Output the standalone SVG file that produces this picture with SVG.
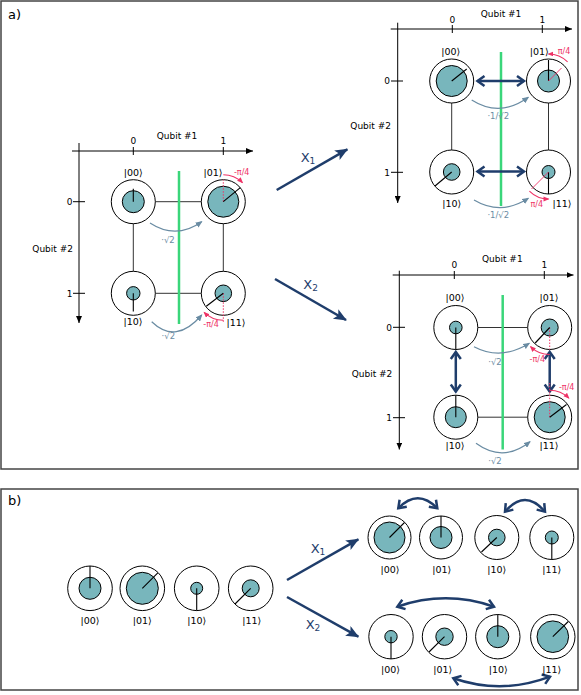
<svg xmlns="http://www.w3.org/2000/svg" width="581" height="695" viewBox="0 0 581 695">
<style>
text{font-family:"DejaVu Sans","Liberation Sans",sans-serif;}
.frame{fill:#fff;stroke:#444;stroke-width:1.5}
.ax{stroke:#000;stroke-width:1;fill:none}
.axa{stroke:#000;stroke-width:1;fill:none;marker-end:url(#axArr)}
.tick{font-size:9px;fill:#000}
.qt{font-size:9px;fill:#000}
.outer{fill:#fff;stroke:#000;stroke-width:1}
.fill{fill:#78b6bc;stroke:#000;stroke-width:1}
.ph{stroke:#000;stroke-width:1.1}
.ket{font-size:9.5px;fill:#000;text-anchor:middle}
.conn{stroke:#333;stroke-width:1;fill:none}
.green{stroke:#3ad67a;stroke-width:2.5}
.garc{fill:none;stroke:#6a8ca3;stroke-width:1.2;marker-end:url(#gArr)}
.gtx{font-size:8.5px;fill:#6a8ca3;text-anchor:middle}
.pdot{stroke:#ee3366;stroke-width:1;stroke-dasharray:1.5,1.5}
.pline{stroke:#ee3366;stroke-width:0.9}
.parc{fill:none;stroke:#ee3366;stroke-width:1.1;marker-end:url(#pArr)}
.ptx{font-size:8px;fill:#ee3366;text-anchor:middle}
.nav{stroke:#1f3d6b;stroke-width:2.5;fill:none;marker-end:url(#nArr)}
.dbl{stroke:#1f3d6b;stroke-width:2.5;fill:none;marker-start:url(#chev);marker-end:url(#chev)}
.xl{font-size:13px;fill:#1f3d6b}
.xs{font-size:9px;fill:#1f3d6b}
.pl{font-size:13px;fill:#000}
</style>
<defs>
<marker id="axArr" markerUnits="userSpaceOnUse" markerWidth="8" markerHeight="6" refX="7" refY="3" orient="auto"><path d="M0,0 L7,3 L0,6 z" fill="#000"/></marker>
<marker id="gArr" markerUnits="userSpaceOnUse" markerWidth="8" markerHeight="6" refX="6" refY="3" orient="auto"><path d="M0,0 L7,3 L0,6 z" fill="#6a8ca3"/></marker>
<marker id="pArr" markerUnits="userSpaceOnUse" markerWidth="7" markerHeight="6" refX="5" refY="2.5" orient="auto"><path d="M0,0 L6,2.5 L0,5 z" fill="#ee3366"/></marker>
<marker id="nArr" markerUnits="userSpaceOnUse" markerWidth="14" markerHeight="12" refX="12" refY="5.5" orient="auto"><path d="M0,0 L13,5.5 L0,11 L3,5.5 z" fill="#1f3d6b"/></marker>
<marker id="chev" markerUnits="userSpaceOnUse" markerWidth="12" markerHeight="14" refX="7" refY="5" orient="auto-start-reverse" overflow="visible"><path d="M0,0 L7,5 L0,10" fill="none" stroke="#1f3d6b" stroke-width="2.5"/></marker>
</defs>

<rect class="frame" x="1" y="1" width="577" height="468"/>
<rect class="frame" x="1" y="489" width="577" height="201"/>
<text class="pl" x="8" y="19">a)</text>
<text class="pl" x="8" y="504.5">b)</text>

<!-- ===== Panel a: left diagram axes ===== -->
<g id="axes-left">
<line class="axa" x1="72" y1="151" x2="253" y2="151"/>
<line class="axa" x1="79" y1="143" x2="79" y2="323"/>
<line class="ax" x1="133.3" y1="147" x2="133.3" y2="155"/>
<line class="ax" x1="223.3" y1="147" x2="223.3" y2="155"/>
<line class="ax" x1="73" y1="201.7" x2="85" y2="201.7"/>
<line class="ax" x1="73" y1="293.3" x2="85" y2="293.3"/>
<text class="tick" x="133.3" y="144" text-anchor="middle">0</text>
<text class="tick" x="223.3" y="144" text-anchor="middle">1</text>
<text class="tick" x="72.5" y="205" text-anchor="end">0</text>
<text class="tick" x="72.5" y="296.5" text-anchor="end">1</text>
<text class="qt" x="177" y="139" text-anchor="middle">Qubit #1</text>
<text class="qt" x="73" y="252" text-anchor="end">Qubit #2</text>
</g>

<!-- ===== Panel a: top-right axes ===== -->
<g id="axes-x1">
<line class="axa" x1="390.7" y1="29" x2="572" y2="29"/>
<line class="axa" x1="397.7" y1="22.7" x2="397.7" y2="203"/>
<line class="ax" x1="452.3" y1="25" x2="452.3" y2="33"/>
<line class="ax" x1="542.3" y1="25" x2="542.3" y2="33"/>
<line class="ax" x1="391" y1="81" x2="403" y2="81"/>
<line class="ax" x1="391" y1="172.3" x2="403" y2="172.3"/>
<text class="tick" x="452.3" y="22.7" text-anchor="middle">0</text>
<text class="tick" x="542.3" y="22.7" text-anchor="middle">1</text>
<text class="tick" x="390" y="84.3" text-anchor="end">0</text>
<text class="tick" x="390" y="175.6" text-anchor="end">1</text>
<text class="qt" x="501" y="16.5" text-anchor="middle">Qubit #1</text>
<text class="qt" x="391" y="129.3" text-anchor="end">Qubit #2</text>
</g>

<!-- ===== Panel a: bottom-right axes ===== -->
<g id="axes-x2">
<line class="axa" x1="392.7" y1="275" x2="573.5" y2="275"/>
<line class="axa" x1="399.3" y1="270.7" x2="399.3" y2="449.5"/>
<line class="ax" x1="454.3" y1="271" x2="454.3" y2="279"/>
<line class="ax" x1="544.3" y1="271" x2="544.3" y2="279"/>
<line class="ax" x1="393" y1="327.3" x2="405" y2="327.3"/>
<line class="ax" x1="393" y1="417.7" x2="405" y2="417.7"/>
<text class="tick" x="454.3" y="268.3" text-anchor="middle">0</text>
<text class="tick" x="544.3" y="268.3" text-anchor="middle">1</text>
<text class="tick" x="392" y="330.6" text-anchor="end">0</text>
<text class="tick" x="392" y="421" text-anchor="end">1</text>
<text class="qt" x="502.3" y="261.7" text-anchor="middle">Qubit #1</text>
<text class="qt" x="392.3" y="377" text-anchor="end">Qubit #2</text>
</g>

<!-- ===== connectors ===== -->
<g id="connectors">
<!-- left diagram -->
<line class="conn" x1="155.3" y1="201.7" x2="201.3" y2="201.7"/>
<line class="conn" x1="155.3" y1="293.3" x2="201.3" y2="293.3"/>
<line class="conn" x1="133.3" y1="223.7" x2="133.3" y2="271.3"/>
<line class="conn" x1="223.3" y1="223.7" x2="223.3" y2="271.3"/>
<line class="green" x1="179" y1="171" x2="179" y2="324"/>
<path class="garc" d="M150,223 Q176,240 201.7,221.7"/>
<path class="garc" d="M151.7,321.7 Q176,345 201.7,315"/>
<text class="gtx" x="168" y="243">·√2</text>
<text class="gtx" x="168.3" y="339">·√2</text>
<!-- top-right -->
<line class="conn" x1="451.7" y1="103" x2="451.7" y2="150"/>
<line class="conn" x1="548.5" y1="103" x2="548.5" y2="150"/>
<line class="green" x1="501" y1="52" x2="501" y2="206"/>
<line class="dbl" x1="477.5" y1="81" x2="524" y2="81"/>
<line class="dbl" x1="477.5" y1="171.5" x2="524" y2="171.5"/>
<path class="garc" d="M471.7,100 Q500,118 528.3,97.3"/>
<path class="garc" d="M474,200 Q501,216 528.3,198.3"/>
<text class="gtx" x="498.3" y="119">·1/√2</text>
<text class="gtx" x="498.3" y="218">·1/√2</text>
<!-- bottom-right -->
<line class="conn" x1="477.8" y1="327.5" x2="527.7" y2="327.5"/>
<line class="conn" x1="477.8" y1="417.2" x2="527.7" y2="417.2"/>
<line class="green" x1="502.7" y1="295" x2="502.7" y2="449.5"/>
<line class="dbl" x1="455.8" y1="352" x2="455.8" y2="391.5"/>
<line class="dbl" x1="549.7" y1="352" x2="549.7" y2="391.5"/>
<path class="garc" d="M474,346.7 Q501,361 529.3,343.3"/>
<path class="garc" d="M476,443.3 Q503,463 530,441.7"/>
<text class="gtx" x="495" y="365">·√2</text>
<text class="gtx" x="495" y="463.5">·√2</text>
<!-- big X arrows panel a -->
<line class="nav" x1="276.7" y1="190" x2="347.3" y2="149.3"/>
<line class="nav" x1="275" y1="279" x2="346" y2="320"/>
<text class="xl" x="300.7" y="161.7">X<tspan class="xs" dy="2">1</tspan></text>
<text class="xl" x="303.3" y="289.3">X<tspan class="xs" dy="2">2</tspan></text>
<!-- panel b arrows -->
<line class="nav" x1="287" y1="580" x2="358.3" y2="539.3"/>
<line class="nav" x1="287" y1="597" x2="358.3" y2="636.7"/>
<text class="xl" x="310.7" y="553.3">X<tspan class="xs" dy="2">1</tspan></text>
<text class="xl" x="305.7" y="629.3">X<tspan class="xs" dy="2">2</tspan></text>
<path class="dbl" d="M398.3,508.3 Q417.8,488.3 437.3,508.3"/>
<path class="dbl" d="M505,511.7 Q525,488.3 545,511.7"/>
<path class="dbl" d="M397.3,606.7 Q445.7,590 494,606.7"/>
<path class="dbl" d="M453.3,678.3 Q501.7,695 550,676.7"/>
</g>

<!-- ===== Panel a left nodes ===== -->
<g id="L00"><circle class="outer" cx="133.3" cy="201.7" r="22"/><circle class="fill" cx="133.3" cy="201.7" r="11"/><line class="ph" x1="133.3" y1="201.7" x2="133.3" y2="188.7"/><text class="ket" x="133.3" y="175.5">|00⟩</text></g>
<g id="L01"><circle class="outer" cx="223.3" cy="201.7" r="22"/><circle class="fill" cx="223.3" cy="201.7" r="15.5"/><line class="pdot" x1="223.3" y1="201.7" x2="223.3" y2="179.7"/><line class="ph" x1="223.3" y1="201.7" x2="240.3" y2="187.7"/><path class="parc" d="M223.3,174.7 A27,27 0 0 1 242.4,182.6"/><text class="ptx" x="241.7" y="174.5">-π/4</text><text class="ket" x="213" y="176">|01⟩</text></g>
<g id="L10"><circle class="outer" cx="133.3" cy="293.3" r="22"/><circle class="fill" cx="133.3" cy="293.3" r="6.7"/><line class="ph" x1="133.3" y1="293.3" x2="133.3" y2="311.5"/><text class="ket" x="133" y="324.5">|10⟩</text></g>
<g id="L11"><circle class="outer" cx="223.3" cy="293.3" r="22"/><circle class="fill" cx="223.3" cy="293.3" r="8.3"/><line class="pdot" x1="223.3" y1="293.3" x2="223.3" y2="323"/><line class="ph" x1="223.3" y1="293.3" x2="206.3" y2="306.3"/><path class="parc" d="M223.3,320.3 A27,27 0 0 1 204.2,312.4"/><text class="ptx" x="211" y="326.5">-π/4</text><text class="ket" x="236" y="326">|11⟩</text></g>

<!-- ===== Panel a top-right nodes (X1) ===== -->
<g id="T00"><circle class="outer" cx="451.7" cy="81" r="22"/><circle class="fill" cx="451.7" cy="81" r="15.5"/><line class="ph" x1="451.7" y1="81" x2="466.7" y2="69"/><text class="ket" x="450.7" y="54.5">|00⟩</text></g>
<g id="T01"><circle class="outer" cx="548.5" cy="81" r="22"/><circle class="fill" cx="548.5" cy="81" r="11"/><line class="ph" x1="548.5" y1="81" x2="548.5" y2="60"/><line class="pline" x1="548.5" y1="81" x2="561.5" y2="68"/><path class="parc" d="M567.6,61.9 A27,27 0 0 0 548.5,54"/><text class="ptx" x="564" y="54">π/4</text><text class="ket" x="539.3" y="54.5">|01⟩</text></g>
<g id="T10"><circle class="outer" cx="451.7" cy="172" r="22"/><circle class="fill" cx="451.7" cy="172" r="8.3"/><line class="ph" x1="451.7" y1="172" x2="435" y2="186"/><text class="ket" x="451.7" y="206.5">|10⟩</text></g>
<g id="T11"><circle class="outer" cx="548.5" cy="172" r="22"/><circle class="fill" cx="548.5" cy="172" r="6.5"/><line class="ph" x1="548.5" y1="172" x2="548.5" y2="194"/><line class="pline" x1="548.5" y1="172" x2="531.5" y2="189"/><path class="parc" d="M529.4,191.1 A27,27 0 0 0 548.5,199"/><text class="ptx" x="536.7" y="207">π/4</text><text class="ket" x="562" y="207">|11⟩</text></g>

<!-- ===== Panel a bottom-right nodes (X2) ===== -->
<g id="B00"><circle class="outer" cx="455.8" cy="327.5" r="22"/><circle class="fill" cx="455.8" cy="327.5" r="6.3"/><line class="ph" x1="455.8" y1="327.5" x2="455.8" y2="349.5"/><text class="ket" x="455" y="300.5">|00⟩</text></g>
<g id="B01"><circle class="outer" cx="549.7" cy="327.5" r="22"/><circle class="fill" cx="549.7" cy="327.5" r="8.5"/><line class="pdot" x1="549.7" y1="327.5" x2="549.7" y2="349.5"/><line class="ph" x1="549.7" y1="327.5" x2="535.2" y2="343"/><path class="parc" d="M549.7,354.5 A27,27 0 0 1 530.6,346.6"/><text class="ptx" x="537.3" y="362">-π/4</text><text class="ket" x="549" y="300.5">|01⟩</text></g>
<g id="B10"><circle class="outer" cx="455.8" cy="417.2" r="22"/><circle class="fill" cx="455.8" cy="417.2" r="10.5"/><line class="ph" x1="455.8" y1="417.2" x2="455.8" y2="395.2"/><text class="ket" x="455" y="448.5">|10⟩</text></g>
<g id="B11"><circle class="outer" cx="549.7" cy="417.2" r="22"/><circle class="fill" cx="549.7" cy="417.2" r="15.5"/><line class="pdot" x1="549.7" y1="417.2" x2="549.7" y2="383"/><line class="ph" x1="549.7" y1="417.2" x2="566.5" y2="404.5"/><path class="parc" d="M549.7,390.2 A27,27 0 0 1 568.8,398.1"/><text class="ptx" x="566.7" y="390">-π/4</text><text class="ket" x="549" y="448.5">|11⟩</text></g>

<!-- ===== Panel b left row ===== -->
<g id="P00"><circle class="outer" cx="90" cy="588.3" r="22.3"/><circle class="fill" cx="90" cy="588.3" r="11"/><line class="ph" x1="90" y1="588.3" x2="90" y2="566"/><text class="ket" x="90" y="624">|00⟩</text></g>
<g id="P01"><circle class="outer" cx="142.3" cy="588.3" r="22.3"/><circle class="fill" cx="142.3" cy="588.3" r="16"/><line class="ph" x1="142.3" y1="588.3" x2="157.8" y2="572.8"/><text class="ket" x="142.3" y="624">|01⟩</text></g>
<g id="P10"><circle class="outer" cx="196.7" cy="588.3" r="22.3"/><circle class="fill" cx="196.7" cy="588.3" r="6"/><line class="ph" x1="196.7" y1="588.3" x2="196.7" y2="610.6"/><text class="ket" x="196.7" y="624">|10⟩</text></g>
<g id="P11"><circle class="outer" cx="250.7" cy="588.3" r="22.3"/><circle class="fill" cx="250.7" cy="588.3" r="8.5"/><line class="ph" x1="250.7" y1="588.3" x2="235" y2="604"/><text class="ket" x="251.7" y="624">|11⟩</text></g>

<!-- ===== Panel b X1 row ===== -->
<g id="Q00"><circle class="outer" cx="389.5" cy="537.5" r="21.5"/><circle class="fill" cx="389.5" cy="537.5" r="15.5"/><line class="ph" x1="389.5" y1="537.5" x2="404.5" y2="522.5"/><text class="ket" x="390" y="573">|00⟩</text></g>
<g id="Q01"><circle class="outer" cx="441" cy="537.5" r="21.5"/><circle class="fill" cx="441" cy="537.5" r="11"/><line class="ph" x1="441" y1="537.5" x2="441" y2="516"/><text class="ket" x="441.7" y="573">|01⟩</text></g>
<g id="Q10"><circle class="outer" cx="496.8" cy="537.5" r="22"/><circle class="fill" cx="496.8" cy="537.5" r="8.3"/><line class="ph" x1="496.8" y1="537.5" x2="481.5" y2="552"/><text class="ket" x="496.7" y="573">|10⟩</text></g>
<g id="Q11"><circle class="outer" cx="551.8" cy="537.5" r="22"/><circle class="fill" cx="551.8" cy="537.5" r="6.5"/><line class="ph" x1="551.8" y1="537.5" x2="551.8" y2="559.5"/><text class="ket" x="551.7" y="573">|11⟩</text></g>

<!-- ===== Panel b X2 row ===== -->
<g id="R00"><circle class="outer" cx="391" cy="636.7" r="22.2"/><circle class="fill" cx="391" cy="636.7" r="6.2"/><line class="ph" x1="391" y1="636.7" x2="391" y2="658.9"/><text class="ket" x="390.5" y="673">|00⟩</text></g>
<g id="R01"><circle class="outer" cx="444.5" cy="636.7" r="22.2"/><circle class="fill" cx="444.5" cy="636.7" r="8.7"/><line class="ph" x1="444.5" y1="636.7" x2="429" y2="652"/><text class="ket" x="442.7" y="673">|01⟩</text></g>
<g id="R10"><circle class="outer" cx="497.8" cy="636.7" r="22.2"/><circle class="fill" cx="497.8" cy="636.7" r="11"/><line class="ph" x1="497.8" y1="636.7" x2="497.8" y2="614.5"/><text class="ket" x="498.3" y="673">|10⟩</text></g>
<g id="R11"><circle class="outer" cx="552.8" cy="636.7" r="22.2"/><circle class="fill" cx="552.8" cy="636.7" r="15.8"/><line class="ph" x1="552.8" y1="636.7" x2="568.3" y2="621.5"/><text class="ket" x="551.7" y="673">|11⟩</text></g>
</svg>
